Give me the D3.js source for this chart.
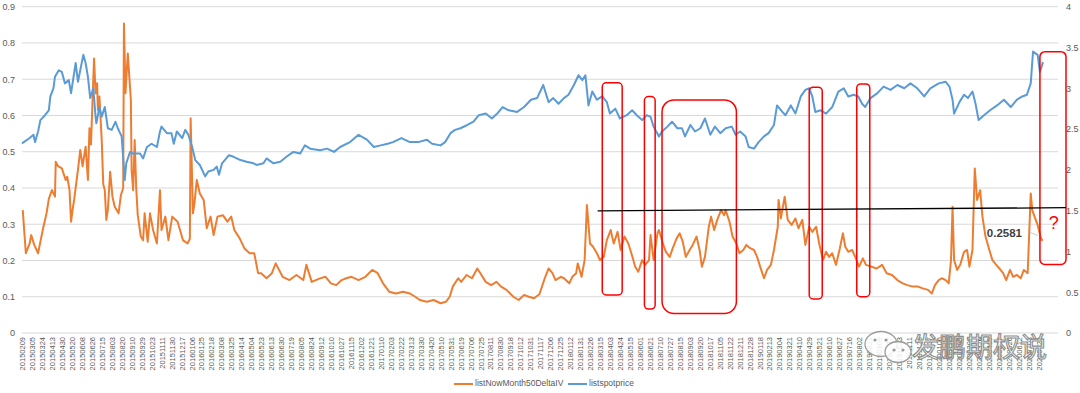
<!DOCTYPE html>
<html><head><meta charset="utf-8">
<script src="https://cdn.jsdelivr.net/npm/d3@7"></script>
<style>
html,body{margin:0;padding:0;background:#fff;}
svg{display:block;font-family:"Liberation Sans","DejaVu Sans",sans-serif;}
</style></head>
<body>
<svg id="chart" width="1080" height="393"></svg>
<script>
// ---- data ----
const dateLabels = ["20150209","20150305","20150324","20150413","20150430","20150520","20150608","20150626","20150715","20150803","20150820","20150910","20150929","20151023","20151111","20151130","20151217","20160106","20160125","20160218","20160308","20160325","20160414","20160504","20160523","20160613","20160630","20160719","20160805","20160824","20160912","20161010","20161027","20161115","20161202","20161221","20170110","20170203","20170222","20170313","20170330","20170420","20170510","20170531","20170619","20170706","20170725","20170811","20170830","20170918","20171012","20171031","20171117","20171206","20171225","20180112","20180131","20180226","20180315","20180403","20180424","20180515","20180601","20180621","20180710","20180727","20180815","20180903","20180920","20181017","20181105","20181122","20181211","20181228","20190118","20190213","20190304","20190321","20190410","20190429","20190521","20190610","20190627","20190716","20190802","20190821","20190909","20190927","20191023","20191111","20191128","20191217","20200106","20200123","20200219","20200309","20200326","20200415","20200507","20200526","20200612","20200703","20200722"];
const labelStep = 13;      // trading days between category labels
const lastDay = 1332;      // trading-day index of the last point
const leftTicks = [0,0.1,0.2,0.3,0.4,0.5,0.6,0.7,0.8,0.9];
const rightTicks = [0,0.5,1,1.5,2,2.5,3,3.5,4];
const seriesNames = ["listNowMonth50DeltaIV","listspotprice"];

// [trading-day index, value]
const ivSeries = [[1,0.339],[5,0.22],[10,0.247],[12,0.27],[16,0.243],[21,0.22],[24,0.252],[28,0.293],[32,0.33],[35,0.37],[39,0.394],[43,0.376],[44,0.472],[47,0.46],[52,0.454],[57,0.422],[59,0.431],[62,0.394],[64,0.307],[66,0.34],[68,0.367],[73,0.45],[76,0.505],[79,0.46],[83,0.514],[86,0.422],[88,0.565],[90,0.52],[94,0.757],[96,0.661],[98,0.689],[99,0.615],[101,0.652],[104,0.532],[106,0.41],[108,0.394],[110,0.312],[112,0.339],[115,0.445],[118,0.376],[121,0.348],[126,0.33],[129,0.38],[132,0.40],[133,0.854],[135,0.661],[138,0.771],[142,0.643],[143,0.45],[145,0.394],[147,0.532],[149,0.40],[151,0.325],[155,0.266],[158,0.256],[160,0.33],[164,0.252],[167,0.33],[171,0.284],[176,0.247],[180,0.394],[182,0.284],[187,0.321],[191,0.256],[196,0.321],[203,0.307],[210,0.256],[216,0.247],[219,0.26],[220,0.592],[223,0.33],[225,0.358],[228,0.422],[232,0.385],[237,0.367],[241,0.289],[246,0.321],[250,0.27],[255,0.321],[262,0.325],[268,0.307],[273,0.321],[277,0.284],[284,0.261],[290,0.234],[297,0.22],[303,0.22],[308,0.165],[312,0.165],[319,0.151],[326,0.165],[331,0.192],[340,0.155],[349,0.146],[358,0.16],[367,0.146],[371,0.188],[378,0.141],[388,0.15],[396,0.155],[403,0.137],[410,0.132],[417,0.146],[423,0.151],[430,0.155],[439,0.146],[448,0.155],[457,0.174],[464,0.165],[471,0.137],[479,0.114],[488,0.109],[497,0.114],[506,0.109],[513,0.1],[519,0.091],[528,0.086],[537,0.091],[546,0.082],[553,0.086],[558,0.1],[562,0.128],[569,0.151],[573,0.141],[580,0.16],[587,0.151],[594,0.178],[598,0.165],[605,0.141],[612,0.132],[619,0.141],[625,0.128],[632,0.119],[641,0.1],[648,0.091],[655,0.105],[661,0.1],[668,0.096],[675,0.107],[682,0.151],[687,0.178],[692,0.165],[696,0.146],[703,0.155],[707,0.151],[714,0.137],[718,0.155],[723,0.165],[725,0.192],[730,0.155],[734,0.201],[737,0.353],[741,0.247],[745,0.238],[750,0.22],[754,0.201],[759,0.21],[763,0.256],[768,0.284],[772,0.247],[777,0.279],[781,0.229],[786,0.266],[791,0.247],[795,0.22],[800,0.183],[804,0.169],[809,0.201],[813,0.188],[818,0.201],[820,0.27],[824,0.201],[829,0.275],[831,0.284],[836,0.247],[840,0.224],[845,0.21],[849,0.234],[854,0.261],[858,0.275],[862,0.252],[866,0.21],[871,0.229],[875,0.243],[880,0.266],[884,0.229],[887,0.183],[891,0.21],[896,0.293],[899,0.321],[903,0.284],[907,0.312],[912,0.339],[916,0.325],[918,0.339],[923,0.307],[927,0.266],[932,0.247],[936,0.22],[941,0.229],[945,0.243],[950,0.234],[955,0.229],[959,0.21],[963,0.183],[968,0.151],[972,0.174],[977,0.188],[981,0.229],[986,0.293],[987,0.367],[990,0.316],[995,0.376],[999,0.312],[1004,0.298],[1009,0.316],[1013,0.289],[1018,0.312],[1022,0.243],[1027,0.293],[1031,0.279],[1036,0.293],[1040,0.247],[1045,0.201],[1049,0.224],[1053,0.21],[1057,0.22],[1062,0.188],[1067,0.234],[1071,0.275],[1074,0.238],[1078,0.224],[1083,0.229],[1087,0.21],[1092,0.183],[1097,0.206],[1101,0.188],[1108,0.183],[1115,0.178],[1122,0.188],[1128,0.165],[1135,0.16],[1142,0.146],[1149,0.137],[1155,0.132],[1162,0.128],[1169,0.128],[1175,0.123],[1182,0.119],[1187,0.109],[1191,0.132],[1196,0.146],[1200,0.151],[1205,0.146],[1209,0.137],[1212,0.201],[1214,0.348],[1216,0.201],[1220,0.174],[1224,0.188],[1229,0.224],[1233,0.229],[1236,0.183],[1240,0.229],[1243,0.454],[1246,0.367],[1250,0.394],[1253,0.321],[1257,0.266],[1262,0.229],[1266,0.201],[1271,0.188],[1275,0.178],[1280,0.165],[1284,0.146],[1289,0.174],[1293,0.155],[1298,0.16],[1303,0.151],[1307,0.174],[1312,0.165],[1316,0.385],[1318,0.339],[1321,0.321],[1325,0.298],[1330,0.256],[1332,0.2581]];

const spotSeries = [[0,2.325],[10,2.39],[15,2.43],[17,2.34],[21,2.47],[24,2.61],[30,2.67],[35,2.73],[37,2.90],[41,3.00],[43,3.14],[48,3.22],[52,3.20],[56,3.06],[61,3.10],[64,2.94],[70,3.31],[73,3.08],[80,3.41],[83,3.31],[86,3.14],[89,2.88],[93,3.00],[96,2.65],[97,2.57],[101,2.77],[104,2.65],[108,2.77],[112,2.51],[117,2.49],[122,2.59],[125,2.51],[130,2.41],[134,1.875],[136,2.08],[141,2.22],[145,2.20],[154,2.20],[158,2.14],[163,2.28],[169,2.32],[176,2.28],[180,2.47],[182,2.53],[189,2.45],[195,2.45],[198,2.32],[202,2.47],[209,2.39],[213,2.49],[217,2.43],[222,2.28],[226,2.12],[232,2.06],[239,1.92],[243,1.98],[250,2.00],[254,2.04],[257,1.94],[261,2.08],[270,2.18],[276,2.16],[285,2.12],[293,2.10],[302,2.08],[306,2.06],[315,2.08],[319,2.14],[328,2.08],[337,2.10],[345,2.16],[354,2.22],[363,2.20],[369,2.30],[376,2.26],[389,2.24],[398,2.26],[407,2.22],[415,2.28],[428,2.34],[439,2.43],[450,2.37],[459,2.28],[468,2.30],[477,2.32],[484,2.34],[495,2.39],[506,2.34],[517,2.34],[528,2.37],[535,2.32],[546,2.30],[552,2.34],[559,2.45],[565,2.49],[572,2.51],[581,2.55],[589,2.59],[596,2.67],[605,2.69],[613,2.63],[620,2.69],[627,2.77],[635,2.73],[646,2.71],[655,2.77],[664,2.86],[672,2.88],[680,3.04],[687,2.83],[693,2.88],[700,2.81],[707,2.88],[713,2.92],[720,3.04],[726,3.16],[731,3.10],[735,3.16],[739,2.79],[744,2.96],[750,2.86],[757,2.90],[763,2.83],[767,2.69],[774,2.75],[780,2.63],[789,2.67],[796,2.73],[802,2.67],[809,2.61],[815,2.67],[820,2.65],[824,2.53],[831,2.41],[835,2.47],[842,2.53],[848,2.59],[855,2.51],[861,2.51],[865,2.41],[872,2.55],[878,2.47],[885,2.51],[891,2.63],[898,2.43],[904,2.53],[911,2.45],[918,2.51],[926,2.53],[931,2.43],[937,2.47],[944,2.41],[948,2.28],[955,2.26],[961,2.34],[968,2.41],[974,2.45],[981,2.55],[985,2.79],[992,2.71],[996,2.67],[1003,2.79],[1009,2.69],[1016,2.90],[1022,2.98],[1027,3.00],[1031,2.90],[1035,2.71],[1042,2.73],[1049,2.69],[1057,2.77],[1065,2.96],[1072,3.00],[1078,2.90],[1085,2.92],[1091,2.90],[1096,2.81],[1100,2.77],[1107,2.88],[1116,2.94],[1124,3.02],[1133,2.98],[1142,3.04],[1151,3.00],[1159,3.06],[1168,3.00],[1177,2.90],[1185,3.00],[1196,3.06],[1205,3.08],[1210,3.02],[1214,2.86],[1216,2.69],[1223,2.83],[1229,2.92],[1234,2.88],[1240,2.96],[1244,2.81],[1248,2.61],[1255,2.67],[1263,2.73],[1272,2.79],[1281,2.86],[1290,2.77],[1298,2.86],[1305,2.90],[1311,2.92],[1316,3.06],[1319,3.45],[1325,3.41],[1328,3.20],[1332,3.32]];

// annotation boxes: [dayFrom, dayTo, ivTop, ivBottom, cornerRadius]
const redBoxes = [[757,783,0.690,0.105,4],[812,826,0.652,0.066,4],[835,932,0.643,0.054,12],[1027,1044,0.678,0.094,4],[1089,1106,0.687,0.100,4],[1328,1362,0.776,0.189,5]];
const refLine = [[751,0.337],[1362,0.3456]];
const lastLabel = "0.2581";

// ---- drawing ----
const svg = d3.select("#chart");
const x = d3.scaleLinear().domain([0,lastDay]).range([22,1043]);
const yL = d3.scaleLinear().domain([0,0.9]).range([333,6.7]);
const yR = d3.scaleLinear().domain([0,4]).range([333,6.7]);
const gridRight = 1058;

// gridlines
svg.append("g").selectAll("line").data(leftTicks).join("line")
  .attr("x1",22).attr("x2",gridRight)
  .attr("y1",d=>yL(d)).attr("y2",d=>yL(d))
  .attr("stroke","#d9d9d9").attr("stroke-width",1);

// left axis
const axL = svg.append("g").attr("transform","translate(17,0)")
  .call(d3.axisLeft(yL).tickValues(leftTicks).tickSize(0).tickPadding(2).tickFormat(d=>d===0?"0":d3.format(".1f")(d)));
axL.select(".domain").remove();
axL.selectAll("text").attr("fill","#595959").style("font-size","9px").style("font-family","Liberation Sans, sans-serif");

// right axis
const axR = svg.append("g").attr("transform","translate(1064,0)")
  .call(d3.axisRight(yR).tickValues(rightTicks).tickSize(0).tickPadding(2).tickFormat(d=>String(d)));
axR.select(".domain").remove();
axR.selectAll("text").attr("fill","#595959").style("font-size","9px").style("font-family","Liberation Sans, sans-serif");

// bottom axis (category labels)
const tickDays = dateLabels.map((d,i)=>i*labelStep);
const axB = svg.append("g").attr("transform","translate(0,333)")
  .call(d3.axisBottom(x).tickValues(tickDays).tickSize(0).tickFormat((d,i)=>dateLabels[i]));
axB.select(".domain").remove();
axB.selectAll("text")
  .attr("transform","rotate(-90)")
  .attr("text-anchor","end")
  .attr("x",-4).attr("y",0).attr("dy","0.35em")
  .attr("fill","#595959").style("font-size","7.5px").style("font-family","Liberation Sans, sans-serif");

// series
const lineL = d3.line().x(d=>x(d[0])).y(d=>yL(d[1]));
const lineR = d3.line().x(d=>x(d[0])).y(d=>yR(d[1]));
svg.append("path").datum(ivSeries).attr("d",lineL)
  .attr("fill","none").attr("stroke","#ED7D31").attr("stroke-width",2).attr("stroke-linejoin","round");
svg.append("path").datum(spotSeries).attr("d",lineR)
  .attr("fill","none").attr("stroke","#5B9BD5").attr("stroke-width",2).attr("stroke-linejoin","round");

// annotations
svg.append("g").selectAll("rect").data(redBoxes).join("rect")
  .attr("x",d=>x(d[0])).attr("width",d=>x(d[1])-x(d[0]))
  .attr("y",d=>yL(d[2])).attr("height",d=>yL(d[3])-yL(d[2]))
  .attr("rx",d=>d[4]).attr("ry",d=>d[4])
  .attr("fill","none").attr("stroke","#FF0000").attr("stroke-width",1.5);

svg.append("path").datum(refLine).attr("d",lineL)
  .attr("stroke","#000").attr("stroke-width",1.3).attr("fill","none");

const lastPt = ivSeries[ivSeries.length-1];
svg.append("line")
  .attr("x1",x(lastPt[0])-13).attr("y1",yL(lastPt[1])-7)
  .attr("x2",x(lastPt[0])-5).attr("y2",yL(lastPt[1])-4)
  .attr("stroke","#bfbfbf").attr("stroke-width",0.8);
svg.append("text").attr("x",x(lastPt[0])-21).attr("y",yL(lastPt[1])-5)
  .attr("text-anchor","end").attr("dominant-baseline","middle")
  .attr("fill","#404040").style("font-size","11.5px").style("font-weight","bold")
  .text(lastLabel);
svg.append("text").attr("x",x(1346)).attr("y",yL(0.3)).attr("text-anchor","middle").attr("dominant-baseline","middle")
  .attr("fill","#FF0000").style("font-size","18px").text("?");

// legend
const legend = svg.append("g").attr("transform","translate(0,384)");
const legItems = [{name:seriesNames[0],color:"#ED7D31",x:454},{name:seriesNames[1],color:"#5B9BD5",x:568}];
legItems.forEach(it=>{
  legend.append("line").attr("x1",it.x).attr("x2",it.x+19).attr("y1",0).attr("y2",0)
    .attr("stroke",it.color).attr("stroke-width",2);
  legend.append("text").attr("x",it.x+21).attr("y",0).attr("dominant-baseline","middle")
    .attr("fill","#595959").style("font-size","8.5px").text(it.name);
});

// watermark
const wm = svg.append("g");
wm.append("ellipse").attr("cx",881).attr("cy",344).attr("rx",16).attr("ry",12.5)
  .attr("fill","rgba(255,255,255,0.85)").attr("stroke","#9a9a9a").attr("stroke-width",1.3);
wm.append("ellipse").attr("cx",898).attr("cy",352).attr("rx",13).attr("ry",10.5)
  .attr("fill","rgba(255,255,255,0.85)").attr("stroke","#9a9a9a").attr("stroke-width",1.3);
[[875,340],[886,340],[894,350],[903,350]].forEach(p=>wm.append("circle").attr("cx",p[0]).attr("cy",p[1]).attr("r",1.6).attr("fill","#9a9a9a"));
wm.append("text").attr("x",912).attr("y",357)
  .style("font-family","Noto Sans CJK SC, sans-serif").style("font-size","27px")
  .attr("fill","rgba(255,255,255,0.85)").attr("stroke","#8c8c8c").attr("stroke-width",1.1)
  .text("发鹏期权说");
</script>
</body></html>
